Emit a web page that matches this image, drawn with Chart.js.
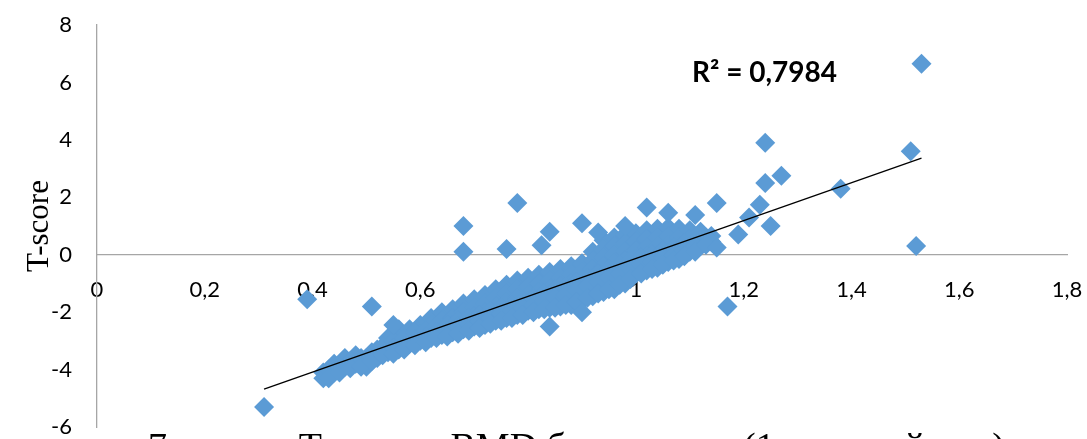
<!DOCTYPE html>
<html>
<head>
<meta charset="utf-8">
<script src="https://cdn.jsdelivr.net/npm/chart.js@4.4.1/dist/chart.umd.min.js"></script>
<style>
  html, body { margin: 0; padding: 0; background: #fff; }
  #wrap { width: 1087px; height: 439px; }
</style>
</head>
<body>
<div id="wrap"><canvas id="chart"></canvas></div>
<script>
// dense band of points, one column per BMD value
var bandX = [0.42, 0.44, 0.46, 0.48, 0.50, 0.52, 0.54, 0.56, 0.58, 0.60, 0.62, 0.64, 0.66, 0.68, 0.70,
  0.72, 0.74, 0.76, 0.78, 0.80, 0.82, 0.84, 0.86, 0.88, 0.90, 0.92, 0.94, 0.96, 0.98, 1.00,
  1.02, 1.04, 1.06, 1.08, 1.10, 1.12, 1.14];
var bandT = [
  [-4.1, -4.3], [-3.8, -4.1], [-3.6, -3.9], [-3.5, -3.8], [-3.6, -3.9], [-3.3, -3.6],
  [-2.9, -3.2, -3.4], [-2.6, -3.0, -3.3], [-2.6, -2.85, -3.1], [-2.45, -2.75, -3.0],
  [-2.2, -2.45, -2.7, -2.9], [-2.0, -2.3, -2.55, -2.8], [-1.9, -2.2, -2.45, -2.7],
  [-1.7, -2.0, -2.3, -2.6], [-1.55, -1.85, -2.15, -2.5], [-1.4, -1.7, -2.0, -2.25, -2.45],
  [-1.2, -1.5, -1.8, -2.05, -2.3], [-1.05, -1.35, -1.65, -1.95, -2.2], [-0.9, -1.2, -1.5, -1.8, -2.1],
  [-0.8, -1.1, -1.4, -1.7, -1.95], [-0.7, -1.0, -1.3, -1.6, -1.9], [-0.6, -0.9, -1.2, -1.5, -1.85],
  [-0.5, -0.8, -1.1, -1.4, -1.8], [-0.4, -0.7, -1.0, -1.3, -1.55, -1.75], [-0.3, -0.6, -0.9, -1.2, -1.45, -1.6],
  [0.1, -0.2, -0.5, -0.8, -1.1, -1.45], [0.5, 0.2, -0.1, -0.4, -0.7, -1.0, -1.3],
  [0.6, 0.3, 0.0, -0.3, -0.6, -0.9, -1.2], [0.7, 0.4, 0.1, -0.2, -0.5, -0.8, -1.0],
  [0.75, 0.45, 0.15, -0.15, -0.45, -0.65], [0.85, 0.55, 0.25, -0.05, -0.35, -0.55],
  [0.9, 0.6, 0.3, 0.0, -0.3, -0.45], [0.95, 0.65, 0.35, 0.05, -0.25], [0.9, 0.6, 0.3, 0.0, -0.15],
  [0.85, 0.55, 0.25, 0.1], [0.8, 0.5, 0.3], [0.65, 0.45]
];
// the solid lower part of the band, in between the columns above
var lowerX = [0.43, 0.45, 0.47, 0.49, 0.51, 0.53, 0.55, 0.57, 0.59, 0.61, 0.63, 0.65, 0.67, 0.69, 0.71,
  0.73, 0.75, 0.77, 0.79, 0.81, 0.83, 0.85, 0.87, 0.89, 0.91, 0.93, 0.95, 0.97, 0.99, 1.01,
  1.03, 1.05, 1.07, 1.09, 1.11, 1.13];
var lowerT = [
  [-4.0, -4.3], [-3.9, -4.1], [-3.7, -3.95], [-3.6, -3.9], [-3.4, -3.7], [-3.2, -3.5],
  [-3.0, -3.25, -3.45], [-2.9, -3.15, -3.3], [-2.7, -2.95, -3.15], [-2.65, -2.85, -3.05],
  [-2.5, -2.7, -2.9], [-2.45, -2.65, -2.85], [-2.3, -2.5, -2.75], [-2.2, -2.4, -2.65],
  [-2.1, -2.3, -2.55], [-1.95, -2.2, -2.4], [-1.85, -2.05, -2.3], [-1.75, -1.95, -2.2],
  [-1.6, -1.85, -2.1], [-1.5, -1.75, -2.0], [-1.35, -1.6, -1.9], [-1.2, -1.5, -1.85],
  [-1.1, -1.4, -1.75], [-0.95, -1.25, -1.65], [-0.8, -1.1, -1.5], [-0.65, -0.95, -1.35],
  [-0.5, -0.8, -1.2], [-0.35, -0.65, -1.05], [-0.2, -0.5, -0.85], [-0.1, -0.35, -0.65],
  [0.0, -0.25, -0.5], [0.15, -0.1, -0.35], [0.25, 0.0, -0.2], [0.4, 0.15, -0.05],
  [0.5, 0.3, 0.1], [0.6, 0.35]
];
// scattered points away from the band
var outlierX = [0.31, 0.39, 0.51, 0.55, 0.68, 0.68, 0.76, 0.78, 0.825, 0.84, 0.84, 0.90, 0.90, 0.93, 0.98,
  1.02, 1.06, 1.11, 1.15, 1.15, 1.17, 1.19, 1.21, 1.23, 1.25, 1.24, 1.27, 1.24, 1.38, 1.51, 1.52, 1.53];
var outlierT = [-5.3, -1.55, -1.8, -2.45, 1.0, 0.1, 0.2, 1.8, 0.33, 0.8, -2.5, -2.0, 1.1, 0.77, 1.0,
  1.64, 1.46, 1.38, 1.8, 0.25, -1.8, 0.7, 1.3, 1.74, 1.0, 2.5, 2.75, 3.9, 2.3, 3.6, 0.3, 6.65];

var xTickLabels = ['0', '0,2', '0,4', '0,6', '0,8', '1', '1,2', '1,4', '1,6', '1,8'];
var yTitle = 'T-score';
var r2Text = 'R² = 0,7984';
var caption = '7 – связь T-score и BMD бедра слева (1 мужской пол)';

var points = [];
bandX.forEach(function(x, i) {
  bandT[i].forEach(function(t) { points.push({x: x, y: t}); });
});
lowerX.forEach(function(x, i) {
  lowerT[i].forEach(function(t) { points.push({x: x, y: t}); });
});
outlierX.forEach(function(x, i) { points.push({x: x, y: outlierT[i]}); });

// least squares trendline over the data, drawn from min to max x like Excel
var n = points.length, sx = 0, sy = 0, sxx = 0, sxy = 0, minX = Infinity, maxX = -Infinity;
points.forEach(function(p) {
  sx += p.x; sy += p.y; sxx += p.x * p.x; sxy += p.x * p.y;
  if (p.x < minX) minX = p.x;
  if (p.x > maxX) maxX = p.x;
});
var slope = (n * sxy - sx * sy) / (n * sxx - sx * sx);
var icpt = (sy - slope * sx) / n;
var trend = [{x: minX, y: icpt + slope * minX}, {x: maxX, y: icpt + slope * maxX}];

var textPlugin = {
  id: 'texts',
  afterDraw: function(chart) {
    var c = chart.ctx;
    c.save();
    c.fillStyle = '#000';
    c.textAlign = 'left';
    c.textBaseline = 'alphabetic';
    c.font = 'bold 28px Lato';
    c.fillText(r2Text, 692, 82);
    c.font = '38px "Liberation Serif"';
    c.fillText(caption, 148, 459);
    c.restore();
  }
};

new Chart(document.getElementById('chart'), {
  type: 'scatter',
  data: {
    datasets: [{
      type: 'line',
      data: trend,
      borderColor: '#000',
      borderWidth: 1.3,
      pointRadius: 0,
      fill: false
    }, {
      data: points,
      pointStyle: 'rectRot',
      pointRadius: 10,
      pointBackgroundColor: '#5B9BD5',
      pointBorderWidth: 0,
      borderColor: '#5B9BD5'
    }]
  },
  options: {
    animation: false,
    responsive: true,
    maintainAspectRatio: false,
    layout: { padding: { top: 25, bottom: 12, right: 20, left: 0 } },
    plugins: { legend: { display: false }, tooltip: { enabled: false } },
    scales: {
      x: {
        type: 'linear',
        min: 0, max: 1.8,
        position: { y: 0 },
        afterFit: function(s) { s.height = 0; s.paddingLeft = 0; s.paddingRight = 0; },
        grid: { display: false, drawTicks: false },
        border: { display: true, color: '#a6a6a6', width: 1.3 },
        ticks: {
          stepSize: 0.2,
          padding: 22,
          color: '#000',
          font: { family: 'Lato', size: 22 },
          callback: function(v, i) { return xTickLabels[i]; }
        }
      },
      y: {
        min: -6, max: 8,
        grid: { display: false, drawTicks: false },
        border: { display: true, color: '#a6a6a6', width: 1.3 },
        afterFit: function(s) { s.width = 97; s.paddingTop = 0; s.paddingBottom = 0; },
        title: {
          display: true,
          text: yTitle,
          color: '#000',
          font: { family: 'Liberation Serif', size: 31 },
          padding: { top: 21, bottom: 0 }
        },
        ticks: {
          stepSize: 2,
          padding: 25,
          color: '#000',
          font: { family: 'Lato', size: 22 }
        }
      }
    }
  },
  plugins: [textPlugin]
});
</script>
</body>
</html>
